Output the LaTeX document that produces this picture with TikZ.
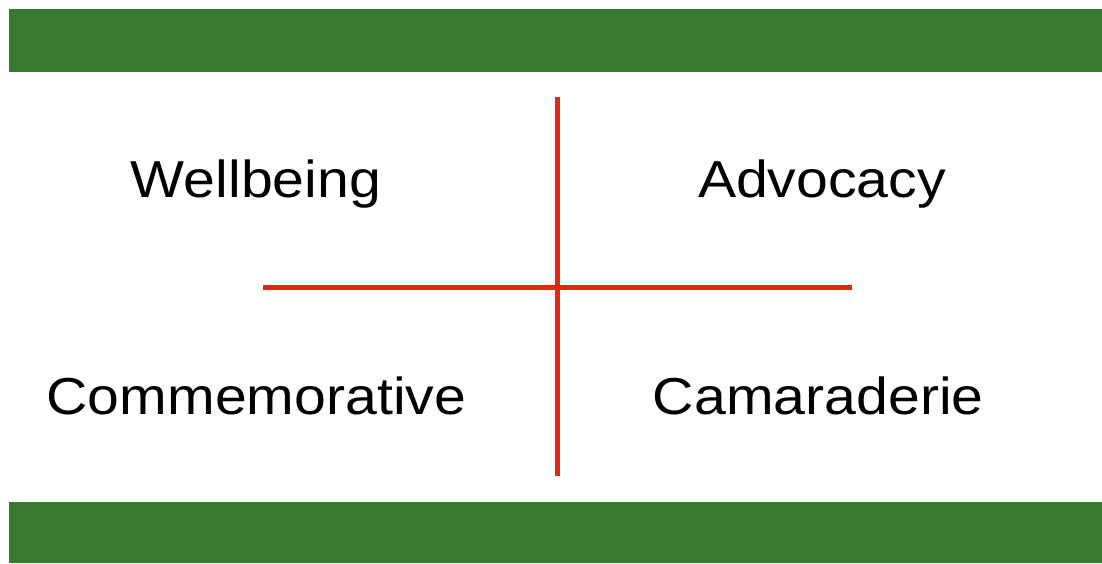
\documentclass[tikz,border=0pt]{standalone}
\usepackage{fontspec}
\setmainfont{Liberation Sans}
\definecolor{bargreen}{RGB}{54,122,48}
\definecolor{linered}{RGB}{228,40,14}
\begin{document}
\begin{tikzpicture}[x=1pt,y=-1pt,
  bar/.style={fill=bargreen,draw=none},
  axis/.style={draw=linered,line width=5pt},
  label/.style={anchor=base,inner sep=0pt,font=\fontsize{52}{60}\selectfont,text=black}]
\useasboundingbox (0,0) rectangle (1102,563);
\fill[bar] (9,9) rectangle (1102,72);
\fill[bar] (9,502) rectangle (1102,563);
\coordinate (vtop) at (557,97);
\coordinate (vbot) at (557,476);
\coordinate (hleft) at (263,287);
\coordinate (hright) at (852,287);
\draw[axis] (vtop) -- (vbot);
\draw[axis] (hleft) -- (hright);
\node[label] (wellbeing) at (256,197.3) {\scalebox{1.1}[1]{Wellbeing}};
\node[label] (advocacy) at (822,197.3) {\scalebox{1.1}[1]{Advocacy}};
\node[label] (commem) at (256.4,414.3) {\scalebox{1.1}[1]{Commemorative}};
\node[label] (camar) at (818.3,414.3) {\scalebox{1.1}[1]{Camaraderie}};
\end{tikzpicture}
\end{document}
